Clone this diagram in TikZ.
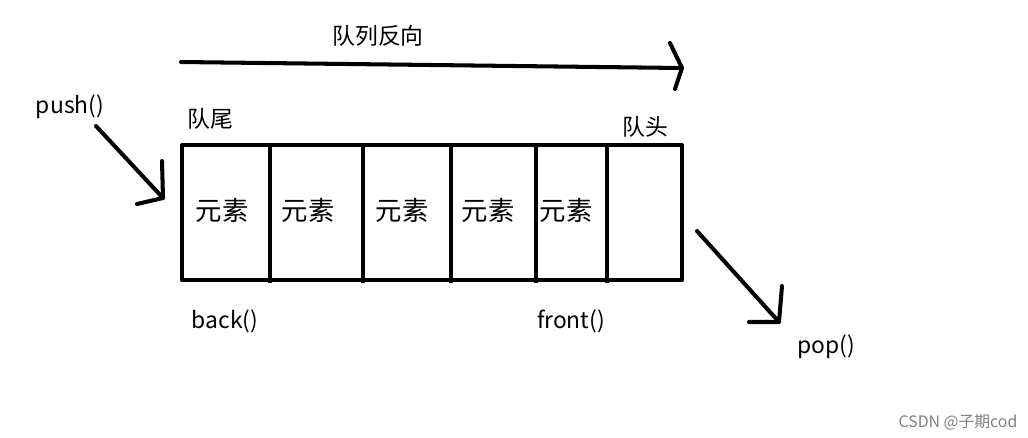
\documentclass[tikz,border=0pt]{standalone}
\usepackage{fontspec}
\setmainfont{Noto Sans CJK SC}
\usetikzlibrary{positioning}
\tikzset{
  ink/.style={line width=2.3pt,line cap=round,line join=round},
  lbl/.style={inner sep=0pt,font=\fontsize{13}{15}\selectfont},
  elem/.style={inner sep=0pt,font=\fontsize{15}{17}\selectfont},
}
\begin{document}
\begin{tikzpicture}[x=0.02cm,y=-0.02cm]
\useasboundingbox[fill=white] (0,0) rectangle (1028,437);
% queue box
\coordinate (nw) at (182,145);
\coordinate (se) at (682,280);
\draw[ink,line cap=butt] (nw) rectangle (se);
\foreach \x in {270,363,451,536,607}
  \draw[ink,line cap=butt] (\x,143)--(\x,283);
\foreach \x/\n in {222/1,308/2,402/3,488/4,566/5}
  \node[elem] (el\n) at (\x,210) {元素};
% labels
\node[lbl] (dir) at (378,36) {队列反向};
\node[lbl] (tail) at (210,119) {队尾};
\node[lbl] (head) at (645,127) {队头};
\node[lbl] (push) at (70,107) {push()};
\node[lbl] (back) at (225,321) {back()};
\node[lbl] (front) at (571,321) {front()};
\node[lbl] (pop) at (826,347) {pop()};
\node[inner sep=0pt,text=gray,font=\fontsize{9}{11}\selectfont] (mark) at (958,422) {CSDN @子期cod};
% direction arrow
\coordinate (d0) at (181,62);
\coordinate (d1) at (682,68);
\draw[ink] (d0)--(d1);
\draw[ink] (670,43)--(d1)--(675,89);
% push arrow
\coordinate (p0) at (96,126);
\coordinate (p1) at (163,198);
\draw[ink] (p0)--(p1);
\draw[ink] (162,161)--(p1)--(137,204);
% pop arrow
\coordinate (q0) at (697,231);
\coordinate (q1) at (779,322);
\draw[ink] (q0)--(q1);
\draw[ink] (782,286)--(q1)--(749,322);
\end{tikzpicture}
\end{document}
